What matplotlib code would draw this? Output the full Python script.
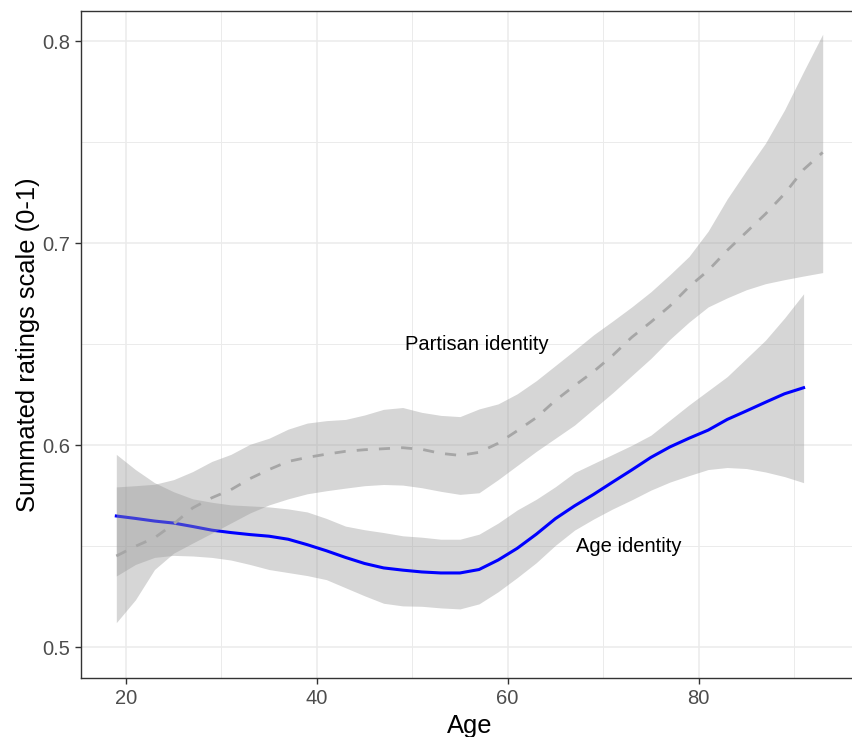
import numpy as np
import matplotlib
matplotlib.use("Agg")
import matplotlib.pyplot as plt

plt.rcParams['font.family'] = ['Liberation Sans', 'DejaVu Sans']

# age identity smooth (blue)
age_x = [19, 21, 23, 25, 27, 29, 31, 33, 35, 37, 39, 41, 43, 45, 47, 49, 51, 53, 55,
         57, 59, 61, 63, 65, 67, 69, 71, 73, 75, 77, 79, 81, 83, 85, 87, 89, 91]
age_fit = [0.565, 0.5638, 0.5625, 0.5615, 0.5598, 0.558, 0.5568, 0.5558, 0.555, 0.5535,
           0.5508, 0.5478, 0.5445, 0.5415, 0.5393, 0.5382, 0.5373, 0.5368, 0.5368,
           0.5385, 0.5432, 0.549, 0.556, 0.5637, 0.570, 0.5757, 0.5818, 0.5878, 0.594,
           0.5992, 0.6035, 0.6075, 0.6128, 0.617, 0.6213, 0.6255, 0.6285]
age_hi = [0.5955, 0.588, 0.5815, 0.577, 0.5735, 0.5718, 0.5705, 0.570, 0.5695, 0.5685,
          0.567, 0.5638, 0.560, 0.5582, 0.5568, 0.5552, 0.5545, 0.5535, 0.5535,
          0.556, 0.5615, 0.568, 0.5733, 0.5795, 0.5865, 0.591, 0.5955, 0.600, 0.605,
          0.6125, 0.620, 0.627, 0.634, 0.643, 0.652, 0.663, 0.675]
age_lo = [0.5353, 0.541, 0.5445, 0.5455, 0.5452, 0.5445, 0.5432, 0.541, 0.5385, 0.537,
          0.5355, 0.5335, 0.5295, 0.5255, 0.5218, 0.5205, 0.5203, 0.5195, 0.519,
          0.5215, 0.5275, 0.5345, 0.5419, 0.5505, 0.558, 0.5635, 0.5685, 0.573, 0.5778,
          0.5818, 0.585, 0.588, 0.589, 0.5885, 0.5868, 0.5845, 0.5815]

# partisan identity smooth (grey dashed)
par_x = [19, 21, 23, 25, 27, 29, 31, 33, 35, 37, 39, 41, 43, 45, 47, 49, 51, 53, 55,
         57, 59, 61, 63, 65, 67, 69, 71, 73, 75, 77, 79, 81, 83, 85, 87, 89, 91, 93]
par_fit = [0.5452, 0.550, 0.5542, 0.561, 0.569, 0.574, 0.578, 0.5835, 0.588, 0.592,
           0.594, 0.5956, 0.597, 0.5978, 0.5983, 0.5988, 0.598, 0.596, 0.595,
           0.5965, 0.601, 0.6072, 0.6137, 0.6222, 0.6295, 0.6365, 0.6445, 0.6535, 0.661,
           0.669, 0.6785, 0.6865, 0.6965, 0.7055, 0.7145, 0.7245, 0.7365, 0.745]
par_hi = [0.5794, 0.580, 0.5807, 0.583, 0.587, 0.592, 0.5955, 0.6005, 0.6035, 0.608,
          0.611, 0.6122, 0.6128, 0.615, 0.6178, 0.6187, 0.6163, 0.6148, 0.6142,
          0.618, 0.6205, 0.6255, 0.632, 0.6395, 0.647, 0.6547, 0.6615, 0.6685, 0.676,
          0.6845, 0.6935, 0.706, 0.722, 0.736, 0.7495, 0.766, 0.785, 0.8035]
par_lo = [0.5122, 0.5235, 0.5385, 0.5466, 0.5516, 0.5565, 0.5615, 0.5665, 0.5705, 0.5735,
          0.576, 0.5775, 0.5788, 0.580, 0.5806, 0.5803, 0.579, 0.5772, 0.5757,
          0.5765, 0.583, 0.590, 0.597, 0.6035, 0.610, 0.618, 0.626, 0.6345, 0.643,
          0.6525, 0.661, 0.6685, 0.673, 0.677, 0.680, 0.682, 0.6838, 0.6855]

labels = ['Partisan identity', 'Age identity']
label_pos = [(56.8, 0.650), (72.7, 0.550)]

fig = plt.figure(figsize=(8.53, 7.37), dpi=100)
ax = fig.add_axes([81/853, 1 - 678/737, 777/853, 667/737])

ax.fill_between(age_x, age_lo, age_hi, color='#999999', alpha=0.4, lw=0, zorder=2)
ax.plot(age_x, age_fit, color='#0000FF', lw=2.2, zorder=3)
ax.fill_between(par_x, par_lo, par_hi, color='#999999', alpha=0.4, lw=0, zorder=4)
ax.plot(par_x, par_fit, color='#A6A6A6', lw=2.0, dashes=(4, 4), zorder=5)

for txt, (x, y) in zip(labels, label_pos):
    ax.text(x, y, txt, fontsize=14.5, ha='center', va='center', color='black', zorder=6)

ax.set_xlim(15.3, 96.7)
ax.set_ylim(0.4848, 0.815)
ax.set_xticks([20, 40, 60, 80])
ax.set_yticks([0.5, 0.6, 0.7, 0.8])
ax.set_xticks([30, 50, 70, 90], minor=True)
ax.set_yticks([0.55, 0.65, 0.75], minor=True)
ax.set_yticklabels(['0.5', '0.6', '0.7', '0.8'])
ax.grid(which='major', color='#EBEBEB', lw=1.1, zorder=0)
ax.grid(which='minor', color='#EBEBEB', lw=0.7, zorder=0)
ax.set_axisbelow(True)
ax.tick_params(which='major', length=4.3, width=1, color='#333333',
               labelsize=14.5, labelcolor='#4D4D4D', pad=3.5)
ax.tick_params(which='minor', length=0)
for s in ax.spines.values():
    s.set_color('#333333')
    s.set_linewidth(1.0)

ax.set_xlabel('Age', fontsize=18.4, va='baseline')
ax.xaxis.set_label_coords(0.5, -0.083)
ax.set_ylabel('Summated ratings scale (0-1)', fontsize=18.4, va='center')
ax.yaxis.set_label_coords(-0.068, 0.5)

fig.savefig('out.png', dpi=100)
